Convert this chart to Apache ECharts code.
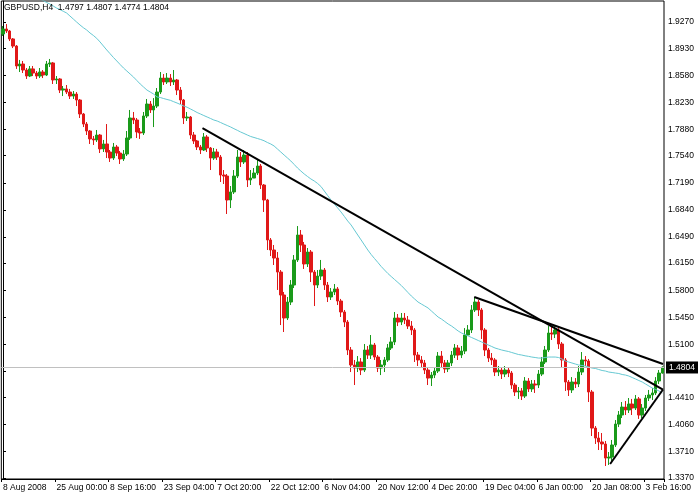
<!DOCTYPE html>
<html><head><meta charset="utf-8">
<script src="https://cdn.jsdelivr.net/npm/echarts@6/dist/echarts.min.js"></script>
<style>html,body{margin:0;padding:0;background:#fff;}#c{width:698px;height:496px;}</style>
</head><body><div id="c"></div>
<script>
const titleText = 'GBPUSD,H4  1.4797 1.4807 1.4774 1.4804';
const xLabels = ['8 Aug 2008','25 Aug 00:00','8 Sep 16:00','23 Sep 04:00','7 Oct 20:00','22 Oct 12:00','6 Nov 04:00','20 Nov 12:00','4 Dec 20:00','19 Dec 04:00','6 Jan 00:00','20 Jan 08:00','3 Feb 16:00'];
const labelEvery = 16;
const yLabelValues = [1.3370,1.3710,1.4060,1.4410,1.5100,1.5450,1.5800,1.6150,1.6490,1.6840,1.7190,1.7540,1.7880,1.8230,1.8580,1.8930,1.9270];
const yTickValues = [1.3370,1.3710,1.4060,1.4410,1.4750,1.5100,1.5450,1.5800,1.6150,1.6490,1.6840,1.7190,1.7540,1.7880,1.8230,1.8580,1.8930,1.9270];
const yMin = 1.3357, yMax = 1.9542;

const opens = [
1.9115,1.9180,1.9154,1.9051,1.8959,1.8701,1.8727,1.8649,1.8571,1.8663,
1.8610,1.8571,1.8623,1.8584,1.8727,1.8740,1.8520,1.8533,1.8390,1.8404,
1.8364,1.8312,1.8338,1.8261,1.8080,1.7950,1.7860,1.7757,1.7744,1.7808,
1.7628,1.7692,1.7588,1.7510,1.7653,1.7575,1.7498,1.7562,1.7769,1.8028,
1.8002,1.7847,1.7834,1.8054,1.8209,1.8132,1.8183,1.8364,1.8545,1.8494,
1.8545,1.8494,1.8520,1.8390,1.8261,1.8028,1.8041,1.7808,1.7731,1.7653,
1.7614,1.7782,1.7640,1.7510,1.7588,1.7523,1.7290,1.7277,1.6967,1.7071,
1.7277,1.7523,1.7459,1.7549,1.7226,1.7251,1.7316,1.7407,1.7161,1.6967,
1.6450,1.6320,1.6216,1.6035,1.5738,1.5440,1.5647,1.5867,1.6191,1.6514,
1.6385,1.6139,1.6294,1.6035,1.5867,1.5983,1.6061,1.5867,1.5712,1.5777,
1.5816,1.5660,1.5518,1.5388,1.5026,1.4832,1.4793,1.4871,1.4767,1.5026,
1.4961,1.5091,1.4935,1.4793,1.4832,1.4897,1.5052,1.5130,1.5440,1.5388,
1.5440,1.5414,1.5336,1.5285,1.4961,1.4897,1.4858,1.4767,1.4663,1.4702,
1.4754,1.4948,1.4858,1.4781,1.4858,1.4961,1.5052,1.4961,1.5013,1.5220,
1.5285,1.5544,1.5647,1.5544,1.5285,1.5026,1.4922,1.4897,1.4741,1.4767,
1.4715,1.4767,1.4728,1.4573,1.4483,1.4496,1.4431,1.4625,1.4522,1.4586,
1.4573,1.4715,1.4871,1.5026,1.5246,1.5233,1.5285,1.5104,1.4897,1.4612,
1.4509,1.4612,1.4586,1.4741,1.4897,1.4884,1.4483,1.4016,1.3887,1.3836,
1.3810,1.3628,1.3641,1.3797,1.4068,1.4185,1.4288,1.4250,1.4327,1.4275,
1.4393,1.4185,1.4275,1.4405,1.4444,1.4470,1.4625,1.4728];

const closes = [
1.9180,1.9154,1.9051,1.8959,1.8701,1.8727,1.8649,1.8571,1.8663,1.8610,
1.8571,1.8623,1.8584,1.8727,1.8740,1.8520,1.8533,1.8390,1.8404,1.8364,
1.8312,1.8338,1.8261,1.8080,1.7950,1.7860,1.7757,1.7744,1.7808,1.7628,
1.7692,1.7588,1.7510,1.7653,1.7575,1.7498,1.7562,1.7769,1.8028,1.8002,
1.7847,1.7834,1.8054,1.8209,1.8132,1.8183,1.8364,1.8545,1.8494,1.8545,
1.8494,1.8520,1.8390,1.8261,1.8028,1.8041,1.7808,1.7731,1.7653,1.7614,
1.7782,1.7640,1.7510,1.7588,1.7523,1.7290,1.7277,1.6967,1.7071,1.7277,
1.7523,1.7459,1.7549,1.7226,1.7251,1.7316,1.7407,1.7161,1.6967,1.6450,
1.6320,1.6216,1.6035,1.5738,1.5440,1.5647,1.5867,1.6191,1.6514,1.6385,
1.6139,1.6294,1.6035,1.5867,1.5983,1.6061,1.5867,1.5712,1.5777,1.5816,
1.5660,1.5518,1.5388,1.5026,1.4832,1.4793,1.4871,1.4767,1.5026,1.4961,
1.5091,1.4935,1.4793,1.4832,1.4897,1.5052,1.5130,1.5440,1.5388,1.5440,
1.5414,1.5336,1.5285,1.4961,1.4897,1.4858,1.4767,1.4663,1.4702,1.4754,
1.4948,1.4858,1.4781,1.4858,1.4961,1.5052,1.4961,1.5013,1.5220,1.5285,
1.5544,1.5647,1.5544,1.5285,1.5026,1.4922,1.4897,1.4741,1.4767,1.4715,
1.4767,1.4728,1.4573,1.4483,1.4496,1.4431,1.4625,1.4522,1.4586,1.4573,
1.4715,1.4871,1.5026,1.5246,1.5233,1.5285,1.5104,1.4897,1.4612,1.4509,
1.4612,1.4586,1.4741,1.4897,1.4884,1.4483,1.4016,1.3887,1.3836,1.3810,
1.3628,1.3641,1.3797,1.4068,1.4185,1.4288,1.4250,1.4327,1.4275,1.4393,
1.4185,1.4275,1.4405,1.4444,1.4470,1.4625,1.4728,1.4804];

const highs = [
1.9218,1.9244,1.9167,1.9063,1.8972,1.8779,1.8766,1.8675,1.8701,1.8701,
1.8636,1.8675,1.8649,1.8766,1.8792,1.8753,1.8571,1.8545,1.8442,1.8455,
1.8404,1.8377,1.8364,1.8274,1.8093,1.7976,1.7873,1.7795,1.7873,1.7821,
1.7744,1.7950,1.7614,1.7705,1.7679,1.7601,1.7614,1.7860,1.8132,1.8106,
1.8028,1.7898,1.8106,1.8274,1.8248,1.8286,1.8416,1.8623,1.8597,1.8610,
1.8597,1.8649,1.8533,1.8429,1.8274,1.8106,1.8054,1.7847,1.7744,1.7679,
1.7834,1.7808,1.7653,1.7640,1.7628,1.7549,1.7355,1.7303,1.7148,1.7355,
1.7614,1.7588,1.7614,1.7588,1.7355,1.7381,1.7485,1.7433,1.7174,1.6981,
1.6475,1.6385,1.6294,1.6061,1.5777,1.5712,1.5932,1.6255,1.6630,1.6579,
1.6424,1.6346,1.6320,1.6061,1.6061,1.6191,1.6087,1.5906,1.5828,1.5880,
1.5841,1.5687,1.5544,1.5414,1.5065,1.4897,1.4948,1.4922,1.5104,1.5078,
1.5220,1.5117,1.4961,1.4897,1.4935,1.5104,1.5194,1.5518,1.5492,1.5505,
1.5505,1.5466,1.5401,1.5310,1.5000,1.4948,1.4897,1.4793,1.4741,1.4806,
1.5000,1.5013,1.4897,1.4897,1.5013,1.5104,1.5091,1.5078,1.5310,1.5349,
1.5608,1.5712,1.5673,1.5569,1.5310,1.5052,1.4987,1.4922,1.4819,1.4806,
1.4819,1.4806,1.4754,1.4599,1.4547,1.4534,1.4676,1.4663,1.4638,1.4638,
1.4767,1.4935,1.5078,1.5336,1.5323,1.5336,1.5310,1.5130,1.4922,1.4638,
1.4676,1.4663,1.4819,1.5000,1.4948,1.4910,1.4509,1.4042,1.3965,1.3952,
1.3849,1.3706,1.3862,1.4120,1.4237,1.4353,1.4366,1.4405,1.4393,1.4444,
1.4418,1.4327,1.4444,1.4509,1.4534,1.4676,1.4767,1.4815];

const lows = [
1.9089,1.9128,1.9024,1.8933,1.8663,1.8623,1.8610,1.8533,1.8558,1.8571,
1.8533,1.8545,1.8545,1.8571,1.8688,1.8468,1.8468,1.8351,1.8312,1.8338,
1.8274,1.8274,1.8183,1.8028,1.7911,1.7808,1.7692,1.7679,1.7718,1.7575,
1.7588,1.7510,1.7459,1.7485,1.7536,1.7433,1.7472,1.7536,1.7744,1.7950,
1.7769,1.7757,1.7808,1.8028,1.8093,1.7911,1.8157,1.8338,1.8455,1.8468,
1.8442,1.8455,1.8325,1.8209,1.7950,1.7989,1.7757,1.7692,1.7614,1.7562,
1.7601,1.7588,1.7355,1.7485,1.7485,1.7200,1.7174,1.6786,1.6863,1.7045,
1.7251,1.7394,1.7433,1.7135,1.7161,1.7251,1.7290,1.7110,1.6812,1.6320,
1.6242,1.6126,1.5803,1.5349,1.5259,1.5414,1.5608,1.5828,1.6165,1.6294,
1.6075,1.6100,1.5906,1.5595,1.5828,1.5932,1.5803,1.5647,1.5673,1.5738,
1.5608,1.5453,1.5323,1.4961,1.4741,1.4573,1.4741,1.4702,1.4741,1.4910,
1.4910,1.4897,1.4741,1.4702,1.4741,1.4871,1.5026,1.5091,1.5336,1.5349,
1.5362,1.5298,1.5220,1.4871,1.4819,1.4793,1.4715,1.4573,1.4560,1.4663,
1.4728,1.4806,1.4728,1.4741,1.4819,1.4922,1.4897,1.4922,1.4974,1.5207,
1.5246,1.5518,1.5466,1.5169,1.4948,1.4871,1.4832,1.4689,1.4689,1.4651,
1.4676,1.4676,1.4522,1.4431,1.4393,1.4379,1.4405,1.4483,1.4483,1.4470,
1.4534,1.4689,1.4845,1.5000,1.5156,1.5181,1.5040,1.4793,1.4496,1.4431,
1.4470,1.4534,1.4547,1.4702,1.4819,1.4353,1.3913,1.3810,1.3732,1.3732,
1.3525,1.3538,1.3577,1.3771,1.4029,1.4146,1.4185,1.4211,1.4185,1.4250,
1.4134,1.4146,1.4237,1.4366,1.4379,1.4444,1.4586,1.4720];

const maValues = [
null,null,null,null,null,null,null,null,null,null,
1.9607,1.9568,1.9549,1.9523,1.9503,1.9477,1.9451,1.9432,1.9409,1.9387,
1.9348,1.9309,1.9270,1.9232,1.9197,1.9167,1.9128,1.9096,1.9059,1.9012,
1.8960,1.8908,1.8860,1.8811,1.8766,1.8720,1.8675,1.8636,1.8597,1.8558,
1.8513,1.8468,1.8429,1.8390,1.8364,1.8338,1.8300,1.8293,1.8280,1.8268,
1.8257,1.8239,1.8222,1.8203,1.8183,1.8168,1.8145,1.8123,1.8099,1.8080,
1.8060,1.8041,1.8022,1.8002,1.7989,1.7970,1.7950,1.7931,1.7912,1.7890,
1.7869,1.7847,1.7828,1.7808,1.7789,1.7776,1.7763,1.7750,1.7734,1.7711,
1.7692,1.7666,1.7627,1.7588,1.7549,1.7511,1.7472,1.7427,1.7381,1.7342,
1.7304,1.7271,1.7239,1.7213,1.7181,1.7142,1.7084,1.7025,1.6967,1.6915,
1.6864,1.6812,1.6754,1.6695,1.6644,1.6579,1.6514,1.6450,1.6385,1.6320,
1.6262,1.6210,1.6159,1.6107,1.6061,1.6016,1.5977,1.5938,1.5900,1.5861,
1.5816,1.5770,1.5725,1.5686,1.5647,1.5621,1.5596,1.5570,1.5531,1.5492,
1.5453,1.5427,1.5395,1.5363,1.5337,1.5305,1.5272,1.5246,1.5227,1.5207,
1.5188,1.5169,1.5149,1.5130,1.5110,1.5091,1.5072,1.5052,1.5039,1.5026,
1.5016,1.5007,1.4994,1.4981,1.4968,1.4961,1.4951,1.4944,1.4935,1.4929,
1.4922,1.4922,1.4929,1.4935,1.4935,1.4935,1.4929,1.4910,1.4884,1.4871,
1.4858,1.4845,1.4832,1.4826,1.4819,1.4806,1.4793,1.4787,1.4774,1.4761,
1.4754,1.4741,1.4735,1.4728,1.4722,1.4709,1.4702,1.4689,1.4670,1.4651,
1.4631,1.4612,1.4586,1.4560,1.4534,1.4515,1.4496,1.4470];

// trend lines: [bar index, price] endpoints
const trendLineA = [[59.6, 1.7898], [197.2, 1.4515]];
const trendLineB = [[140.8, 1.5712], [197.2, 1.4845]];
const trendLineC = [[181.4, 1.3551], [197.2, 1.4515]];

const N = closes.length;
const lastPrice = closes[N - 1];
const cats = closes.map((_, i) => String(i));
const candleData = closes.map((c, i) => [opens[i], c, lows[i], highs[i]]);
const FONT = "'Liberation Sans', Arial, sans-serif";

const chart = echarts.init(document.getElementById('c'), null, {renderer: 'canvas'});
const lineSeries = (d) => ({
  type: 'line', xAxisIndex: 1, yAxisIndex: 0, data: d, symbol: 'none', silent: true,
  lineStyle: {color: '#000', width: 2}, z: 5, animation: false
});
chart.setOption({
  animation: false,
  backgroundColor: '#fff',
  graphic: [{type: 'text', left: 4, top: 3, z: 100,
    style: {text: titleText, fontSize: 8.5, fill: '#000', fontFamily: FONT}}],
  grid: {left: 1, right: 34, top: 1, bottom: 17, show: true, borderColor: '#000', borderWidth: 1, backgroundColor: '#fff'},
  xAxis: [{
    type: 'category', data: cats, boundaryGap: true,
    axisLine: {show: true, lineStyle: {color: '#000', width: 1}},
    axisTick: {show: true, interval: labelEvery - 1, length: 3, lineStyle: {color: '#000'}},
    axisLabel: {interval: labelEvery - 1, align: 'left', margin: 4, fontSize: 8.5, color: '#000', fontFamily: FONT,
      formatter: (v, idx) => (idx % labelEvery === 0 ? xLabels[idx / labelEvery] : '')},
    splitLine: {show: false}
  }, {
    type: 'value', min: -0.5, max: N - 0.5, show: false
  }],
  yAxis: {
    type: 'value', position: 'right', min: yMin, max: yMax, scale: true,
    axisLine: {show: true, lineStyle: {color: '#000', width: 1}},
    axisTick: {show: true, length: 3, customValues: yTickValues, lineStyle: {color: '#000'}},
    axisLabel: {customValues: yLabelValues, margin: 4, fontSize: 8.5, color: '#000', fontFamily: FONT,
      formatter: (v) => Number(v).toFixed(4)},
    splitLine: {show: false}
  },
  series: [{
    type: 'candlestick', data: candleData, barWidth: 3, z: 3,
    itemStyle: {color: '#1a9a1a', color0: '#e01818', borderColor: '#1a9a1a', borderColor0: '#e01818', borderWidth: 1},
    markLine: {
      symbol: 'none', silent: true, animation: false,
      lineStyle: {color: '#c0c0c0', type: 'solid', width: 1},
      label: {show: true, position: 'end', distance: 2, formatter: lastPrice.toFixed(4),
        backgroundColor: '#000', color: '#fff', padding: [2, 3, 1, 3], fontSize: 8.5, fontFamily: FONT},
      data: [{yAxis: lastPrice}]
    }
  }, {
    type: 'line', data: maValues, symbol: 'none', silent: true, z: 4,
    lineStyle: {color: '#66c8d2', width: 1}
  },
  lineSeries(trendLineA), lineSeries(trendLineB), lineSeries(trendLineC)]
});
</script>
</body></html>
